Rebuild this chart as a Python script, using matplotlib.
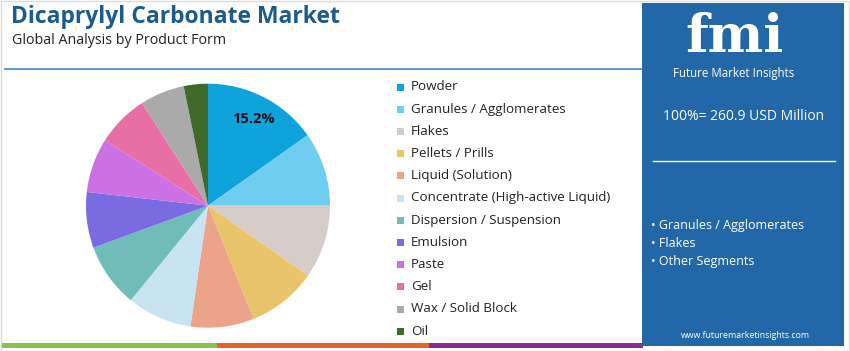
import matplotlib
matplotlib.use("Agg")
import matplotlib.pyplot as plt
from matplotlib.patches import Rectangle

categories = ["Powder", "Granules / Agglomerates", "Flakes", "Pellets / Prills",
              "Liquid (Solution)", "Concentrate (High-active Liquid)",
              "Dispersion / Suspension", "Emulsion", "Paste", "Gel",
              "Wax / Solid Block", "Oil"]
shares = [15.2, 9.8, 9.7, 9.2, 8.4, 8.6, 8.5, 7.4, 7.2, 6.9, 5.9, 3.2]
colors = ["#0EA3DB", "#6ECDF0", "#D6CDC9", "#EAC46B", "#EBA48A", "#C8E3F2",
          "#70BCB8", "#7A6CE0", "#CB71E3", "#E86FA5", "#AAAAAA", "#3F6A2B"]
total_text = "100%= 260.9 USD Million"
highlight = ["Granules / Agglomerates", "Flakes", "Other Segments"]

FONT = "Open Sans"
W, H = 850, 351
fig = plt.figure(figsize=(W / 100, H / 100), dpi=100)
bg = fig.add_axes([0, 0, 1, 1])
bg.set_xlim(0, W)
bg.set_ylim(H, 0)
bg.axis("off")

# outer border
bg.add_patch(Rectangle((0.5, 0.5), W - 1, H - 1, fill=False, ec="#DDDDDD", lw=1))

# title
bg.text(11, 17, "Dicaprylyl Carbonate Market", fontsize=16.5, fontweight="bold",
        color="#1C5B8E", family=FONT, va="center", ha="left")
bg.text(12, 40, "Global Analysis by Product Form", fontsize=10.3, color="#222222",
        family=FONT, va="center", ha="left")
bg.plot([5, 642], [69, 69], color="#3F86BF", lw=1.2)

# bottom stripes
bg.add_patch(Rectangle((2, 343), 215, 5, color="#8BC34A", lw=0))
bg.add_patch(Rectangle((217, 343), 212, 5, color="#E8602C", lw=0))
bg.add_patch(Rectangle((429, 343), 214, 5, color="#8E2C8E", lw=0))

# right panel
bg.add_patch(Rectangle((642, 3), 202, 343, color="#2268A9", lw=0))
bg.text(735, 63, "fmi", fontsize=38, fontweight="bold", color="white",
        family="DejaVu Serif", ha="center", va="bottom")
bg.text(734, 73, "Future Market Insights", fontsize=8.3, color="white",
        family=FONT, ha="center", va="center")
bg.text(744, 117, total_text, fontsize=10, color="white", family=FONT,
        ha="center", va="center")
bg.plot([653, 835], [161, 161], color="white", lw=1)
for i, t in enumerate(highlight):
    bg.text(651, 226 + i * 17.5, "\u2022 " + t, fontsize=9, color="white",
            family=FONT, ha="left", va="center")
bg.text(745, 335, "www.futuremarketinsights.com", fontsize=6.3, color="white",
        family=FONT, ha="center", va="center")

# legend
for i, (c, col) in enumerate(zip(categories, colors)):
    y = 87 + i * 22.2
    bg.add_patch(Rectangle((397, y - 3.5), 7, 7, color=col, lw=0))
    bg.text(411, y, c, fontsize=9.6, color="#222222", family=FONT,
            ha="left", va="center")

# pie
cx, cy, r = 208, 205.7, 122
pax = fig.add_axes([(cx - r) / W, (H - cy - r) / H, 2 * r / W, 2 * r / H])
wedges, _ = pax.pie(shares, colors=colors, startangle=90, counterclock=False,
                    radius=1, wedgeprops=dict(linewidth=0))
pax.set_xlim(-1, 1)
pax.set_ylim(-1, 1)
pax.axis("off")
pax.text(0.37, 0.71, f"{shares[0]}%", fontsize=10.5, fontweight="bold",
         color="#111111", family=FONT, ha="center", va="center")

fig.savefig("out.png", dpi=100)
